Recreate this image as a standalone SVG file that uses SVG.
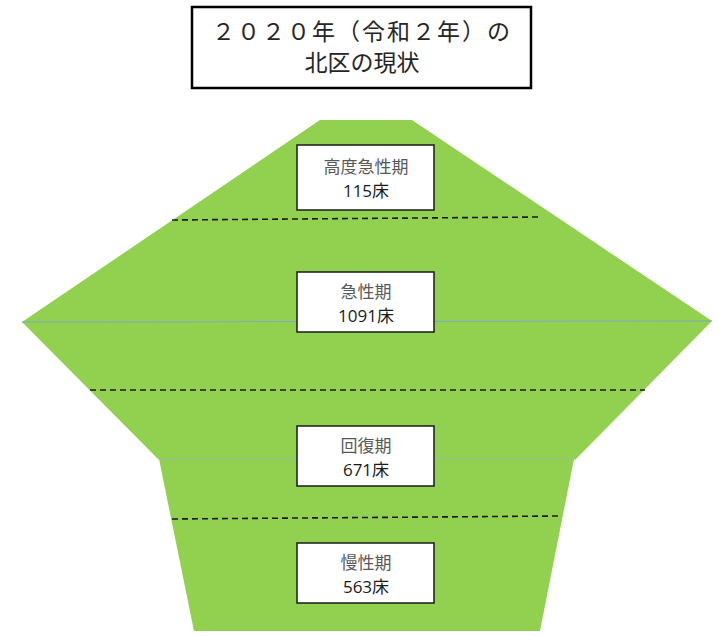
<svg xmlns="http://www.w3.org/2000/svg" width="719" height="636" viewBox="0 0 719 636">
<style>
.shape{fill:#92D050;stroke:none}
.dash{stroke:#1a1a1a;stroke-width:1.6;stroke-dasharray:6,4;fill:none}
.box{fill:#fff;stroke:#1a1a1a;stroke-width:1.5}
.t1{font-family:"Noto Sans CJK JP","Liberation Sans",sans-serif;font-size:17px;fill:#595959;text-anchor:middle}
.t2{font-family:"Open Sans","Noto Sans CJK JP",sans-serif;font-size:17px;fill:#1a1a1a;text-anchor:middle}
.title{font-family:"Noto Sans CJK JP",sans-serif;font-size:23px;fill:#262626;text-anchor:middle}
</style>
<rect width="719" height="636" fill="#fff"/>
<g id="title">
<rect x="192" y="7" width="339" height="81" fill="#fff" stroke="#000" stroke-width="2.5"/>
<text class="title" x="362" y="40" letter-spacing="2">２０２０年（令和２年）の</text>
<text class="title" x="362" y="71">北区の現状</text>
</g>
<g id="pyramid">
<polygon class="shape" points="320,120 412,120 712,321 22,322"/>
<polygon class="shape" points="22,322 712,321 576,459 158,459"/>
<polygon class="shape" points="159,459 574,459 540,631 194,631"/>
<line x1="22" y1="322" x2="712" y2="321" stroke="#7fa7c0" stroke-width="1"/>
<line x1="158" y1="459" x2="576" y2="459" stroke="#8fc0a0" stroke-width="1"/>
</g>
<g id="connectors">
<line class="dash" x1="172" y1="220" x2="540" y2="217"/>
<line class="dash" x1="90" y1="390" x2="645" y2="390"/>
<line class="dash" x1="172" y1="519" x2="560" y2="516"/>
</g>
<g id="n1">
<rect class="box" x="297" y="145" width="137" height="65"/>
<text class="t1" x="366" y="173">高度急性期</text>
<text class="t2" x="366" y="197">115床</text>
</g>
<g id="n2">
<rect class="box" x="297" y="272" width="137" height="60"/>
<text class="t1" x="366" y="298">急性期</text>
<text class="t2" x="366" y="322">1091床</text>
</g>
<g id="n3">
<rect class="box" x="297" y="426" width="137" height="60"/>
<text class="t1" x="366" y="452">回復期</text>
<text class="t2" x="366" y="476">671床</text>
</g>
<g id="n4">
<rect class="box" x="297" y="543" width="137" height="60"/>
<text class="t1" x="366" y="569">慢性期</text>
<text class="t2" x="366" y="593">563床</text>
</g>
</svg>
